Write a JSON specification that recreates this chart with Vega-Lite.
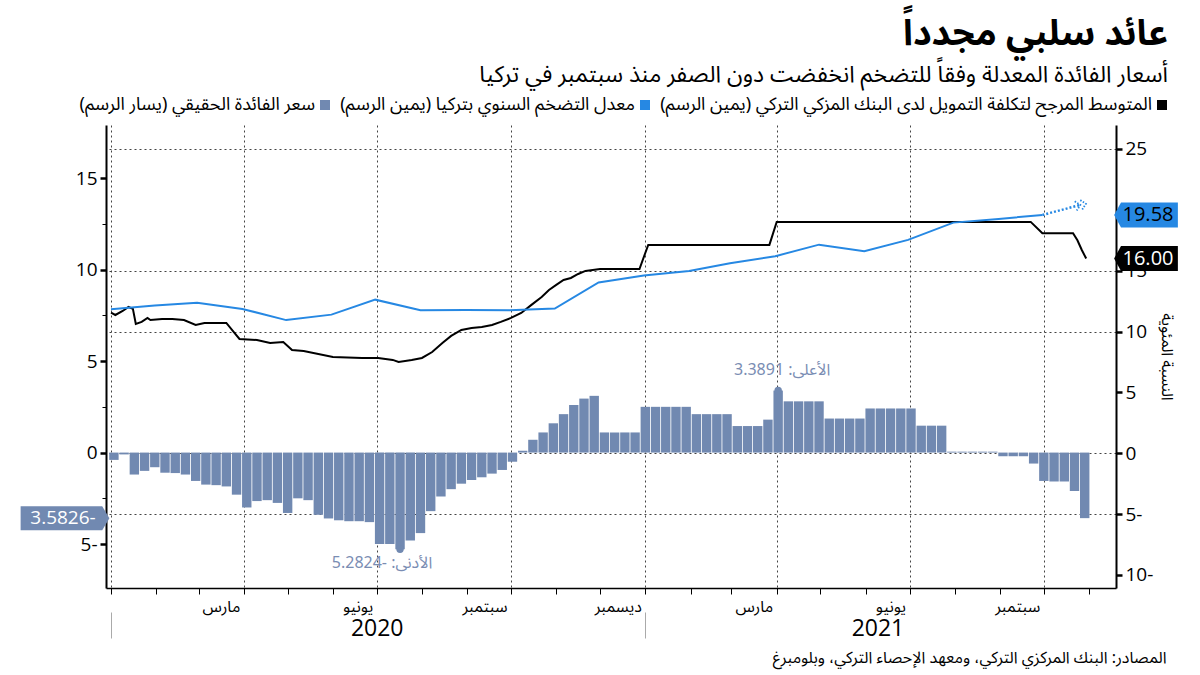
{
  "$schema": "https://vega.github.io/schema/vega-lite/v6.json",
  "width": 1010,
  "height": 463,
  "autosize": {"type": "none"},
  "padding": {"left": 106, "top": 125, "right": 84, "bottom": 87},
  "background": "white",
  "config": {"view": {"stroke": null}},
  "title": {
    "text": "عائد سلبي مجدداً",
    "subtitle": "أسعار الفائدة المعدلة وفقاً للتضخم انخفضت دون الصفر منذ سبتمبر في تركيا",
    "anchor": "end",
    "frame": "group",
    "dx": 52,
    "offset": 8,
    "font": "Noto Sans Arabic, DejaVu Sans, sans-serif",
    "fontSize": 36,
    "fontWeight": "bold",
    "color": "#000000",
    "subtitleFont": "Noto Sans Arabic, DejaVu Sans, sans-serif",
    "subtitleFontSize": 23,
    "subtitleColor": "#000000",
    "subtitlePadding": 11
  },
  "datasets": {
    "bars": [
      {"date": "2020-01-03", "real": -0.4}, {"date": "2020-01-10", "real": -0.1}, {"date": "2020-01-17", "real": -1.2}, {"date": "2020-01-24", "real": -1.0},
      {"date": "2020-01-31", "real": -0.8}, {"date": "2020-02-07", "real": -1.1}, {"date": "2020-02-14", "real": -1.12}, {"date": "2020-02-21", "real": -1.2},
      {"date": "2020-02-28", "real": -1.55}, {"date": "2020-03-06", "real": -1.75}, {"date": "2020-03-13", "real": -1.78}, {"date": "2020-03-20", "real": -1.85},
      {"date": "2020-03-27", "real": -2.3}, {"date": "2020-04-03", "real": -3.0}, {"date": "2020-04-10", "real": -2.65}, {"date": "2020-04-17", "real": -2.6},
      {"date": "2020-04-24", "real": -2.75}, {"date": "2020-05-01", "real": -3.3}, {"date": "2020-05-08", "real": -2.5}, {"date": "2020-05-15", "real": -2.6},
      {"date": "2020-05-22", "real": -3.4}, {"date": "2020-05-29", "real": -3.6}, {"date": "2020-06-05", "real": -3.7}, {"date": "2020-06-12", "real": -3.75},
      {"date": "2020-06-19", "real": -3.75}, {"date": "2020-06-26", "real": -3.8}, {"date": "2020-07-03", "real": -5.0}, {"date": "2020-07-10", "real": -5.0},
      {"date": "2020-07-17", "real": -5.2824}, {"date": "2020-07-24", "real": -4.8}, {"date": "2020-07-31", "real": -4.4}, {"date": "2020-08-07", "real": -3.2},
      {"date": "2020-08-14", "real": -2.4}, {"date": "2020-08-21", "real": -2.0}, {"date": "2020-08-28", "real": -1.7}, {"date": "2020-09-04", "real": -1.5},
      {"date": "2020-09-11", "real": -1.35}, {"date": "2020-09-18", "real": -1.15}, {"date": "2020-09-25", "real": -0.95}, {"date": "2020-10-02", "real": -0.5},
      {"date": "2020-10-09", "real": 0.1}, {"date": "2020-10-16", "real": 0.7}, {"date": "2020-10-23", "real": 1.1}, {"date": "2020-10-30", "real": 1.6},
      {"date": "2020-11-06", "real": 2.1}, {"date": "2020-11-13", "real": 2.6}, {"date": "2020-11-20", "real": 2.95}, {"date": "2020-11-27", "real": 3.1},
      {"date": "2020-12-04", "real": 1.1}, {"date": "2020-12-11", "real": 1.1}, {"date": "2020-12-18", "real": 1.1}, {"date": "2020-12-25", "real": 1.1},
      {"date": "2021-01-01", "real": 2.5}, {"date": "2021-01-08", "real": 2.5}, {"date": "2021-01-15", "real": 2.5}, {"date": "2021-01-22", "real": 2.5},
      {"date": "2021-01-29", "real": 2.5}, {"date": "2021-02-05", "real": 2.1}, {"date": "2021-02-12", "real": 2.1}, {"date": "2021-02-19", "real": 2.1},
      {"date": "2021-02-26", "real": 2.1}, {"date": "2021-03-05", "real": 1.45}, {"date": "2021-03-12", "real": 1.45}, {"date": "2021-03-19", "real": 1.45},
      {"date": "2021-03-26", "real": 1.8}, {"date": "2021-04-02", "real": 3.3891}, {"date": "2021-04-09", "real": 2.8}, {"date": "2021-04-16", "real": 2.8},
      {"date": "2021-04-23", "real": 2.8}, {"date": "2021-04-30", "real": 2.8}, {"date": "2021-05-07", "real": 1.86}, {"date": "2021-05-14", "real": 1.86},
      {"date": "2021-05-21", "real": 1.86}, {"date": "2021-05-28", "real": 1.86}, {"date": "2021-06-04", "real": 2.41}, {"date": "2021-06-11", "real": 2.41},
      {"date": "2021-06-18", "real": 2.41}, {"date": "2021-06-25", "real": 2.41}, {"date": "2021-07-02", "real": 2.41}, {"date": "2021-07-09", "real": 1.47},
      {"date": "2021-07-16", "real": 1.47}, {"date": "2021-07-23", "real": 1.47}, {"date": "2021-07-30", "real": 0.05}, {"date": "2021-08-06", "real": 0.05},
      {"date": "2021-08-13", "real": 0.05}, {"date": "2021-08-20", "real": 0.05}, {"date": "2021-08-27", "real": 0.05}, {"date": "2021-09-03", "real": -0.2},
      {"date": "2021-09-10", "real": -0.2}, {"date": "2021-09-17", "real": -0.2}, {"date": "2021-09-24", "real": -0.6}, {"date": "2021-10-01", "real": -1.55},
      {"date": "2021-10-08", "real": -1.58}, {"date": "2021-10-15", "real": -1.58}, {"date": "2021-10-22", "real": -2.1}, {"date": "2021-10-29", "real": -3.5826}
    ],
    "funding": [
      {"date": "2020-01-01", "rate": 11.55}, {"date": "2020-01-04", "rate": 11.36}, {"date": "2020-01-09", "rate": 11.69}, {"date": "2020-01-13", "rate": 12.02},
      {"date": "2020-01-16", "rate": 11.86}, {"date": "2020-01-18", "rate": 10.63}, {"date": "2020-01-22", "rate": 10.79}, {"date": "2020-01-26", "rate": 11.12},
      {"date": "2020-01-28", "rate": 10.95}, {"date": "2020-02-05", "rate": 11.04}, {"date": "2020-02-12", "rate": 11.04}, {"date": "2020-02-20", "rate": 10.95},
      {"date": "2020-02-28", "rate": 10.54}, {"date": "2020-03-05", "rate": 10.71}, {"date": "2020-03-20", "rate": 10.71}, {"date": "2020-03-25", "rate": 9.97},
      {"date": "2020-03-29", "rate": 9.39}, {"date": "2020-04-10", "rate": 9.31}, {"date": "2020-04-19", "rate": 9.06}, {"date": "2020-04-28", "rate": 9.14},
      {"date": "2020-05-04", "rate": 8.49}, {"date": "2020-05-12", "rate": 8.41}, {"date": "2020-06-01", "rate": 7.91}, {"date": "2020-06-21", "rate": 7.83},
      {"date": "2020-07-02", "rate": 7.83}, {"date": "2020-07-12", "rate": 7.67}, {"date": "2020-07-16", "rate": 7.5}, {"date": "2020-07-25", "rate": 7.67},
      {"date": "2020-08-01", "rate": 7.83}, {"date": "2020-08-08", "rate": 8.32}, {"date": "2020-08-15", "rate": 9.06}, {"date": "2020-08-21", "rate": 9.64},
      {"date": "2020-08-28", "rate": 10.13}, {"date": "2020-09-04", "rate": 10.3}, {"date": "2020-09-11", "rate": 10.38}, {"date": "2020-09-18", "rate": 10.54},
      {"date": "2020-09-24", "rate": 10.79}, {"date": "2020-10-01", "rate": 11.12}, {"date": "2020-10-08", "rate": 11.53}, {"date": "2020-10-15", "rate": 12.19},
      {"date": "2020-10-22", "rate": 12.84}, {"date": "2020-10-27", "rate": 13.42}, {"date": "2020-11-01", "rate": 13.83}, {"date": "2020-11-06", "rate": 14.24},
      {"date": "2020-11-11", "rate": 14.4}, {"date": "2020-11-16", "rate": 14.73}, {"date": "2020-11-21", "rate": 14.98}, {"date": "2020-12-01", "rate": 15.14},
      {"date": "2020-12-28", "rate": 15.14}, {"date": "2021-01-03", "rate": 17.12}, {"date": "2021-03-27", "rate": 17.12}, {"date": "2021-04-01", "rate": 19.01},
      {"date": "2021-09-22", "rate": 19.01}, {"date": "2021-09-30", "rate": 18.07}, {"date": "2021-10-21", "rate": 18.07}, {"date": "2021-10-24", "rate": 17.5},
      {"date": "2021-10-27", "rate": 16.7}, {"date": "2021-10-30", "rate": 16.0}
    ],
    "inflation": [
      {"date": "2020-01-01", "rate": 11.84}, {"date": "2020-01-31", "rate": 12.15}, {"date": "2020-02-29", "rate": 12.37}, {"date": "2020-03-31", "rate": 11.86},
      {"date": "2020-04-30", "rate": 10.94}, {"date": "2020-05-31", "rate": 11.39}, {"date": "2020-06-30", "rate": 12.62}, {"date": "2020-07-31", "rate": 11.76},
      {"date": "2020-08-31", "rate": 11.77}, {"date": "2020-09-30", "rate": 11.75}, {"date": "2020-10-31", "rate": 11.89}, {"date": "2020-11-30", "rate": 14.03},
      {"date": "2020-12-31", "rate": 14.6}, {"date": "2021-01-31", "rate": 14.97}, {"date": "2021-02-28", "rate": 15.61}, {"date": "2021-03-31", "rate": 16.19},
      {"date": "2021-04-30", "rate": 17.14}, {"date": "2021-05-31", "rate": 16.59}, {"date": "2021-06-30", "rate": 17.53}, {"date": "2021-07-31", "rate": 18.95},
      {"date": "2021-08-31", "rate": 19.25}, {"date": "2021-09-30", "rate": 19.58}
    ],
    "projection": [
      {"date": "2021-09-30", "rate": 19.58}, {"date": "2021-10-26", "rate": 20.4}
    ],
    "arrow": [{"date": "2021-10-26", "rate": 20.4}],
    "notes": [
      {"date": "2021-04-02", "real": 3.3891, "kind": "max", "label": "الأعلى: 3.3891"},
      {"date": "2020-07-17", "real": -5.2824, "kind": "min", "label": "الأدنى: -5.2824"}
    ],
    "tagL": [{"real": -3.5826, "label": "3.5826-"}],
    "tagsR": [
      {"rate": 19.58, "label": "19.58", "series": "inf"},
      {"rate": 16.0, "label": "16.00", "series": "fund"}
    ],
    "years": [
      {"year": "2020", "start": "2020-01-01", "mid": "2020-07-01"},
      {"year": "2021", "start": "2021-01-01", "mid": "2021-06-09"}
    ]
  },
  "resolve": {"scale": {"y": "independent"}, "axis": {"x": "independent"}},
  "layer": [
    {
      "layer": [
        {
          "data": {"name": "bars"},
          "mark": {"type": "bar", "width": 9.4},
          "encoding": {
            "x": {
              "field": "date", "type": "temporal",
              "scale": {"type": "utc", "domain": [{"year": 2020, "month": 1, "date": 1, "utc": true}, {"year": 2021, "month": 11, "date": 16, "utc": true}]},
              "axis": {
                "orient": "bottom",
                "values": [
                  {"year": 2020, "month": 1, "date": 1, "utc": true}, {"year": 2020, "month": 2, "date": 1, "utc": true}, {"year": 2020, "month": 3, "date": 1, "utc": true},
                  {"year": 2020, "month": 4, "date": 1, "utc": true}, {"year": 2020, "month": 5, "date": 1, "utc": true}, {"year": 2020, "month": 6, "date": 1, "utc": true},
                  {"year": 2020, "month": 7, "date": 1, "utc": true}, {"year": 2020, "month": 8, "date": 1, "utc": true}, {"year": 2020, "month": 9, "date": 1, "utc": true},
                  {"year": 2020, "month": 10, "date": 1, "utc": true}, {"year": 2020, "month": 11, "date": 1, "utc": true}, {"year": 2020, "month": 12, "date": 1, "utc": true},
                  {"year": 2021, "month": 1, "date": 1, "utc": true}, {"year": 2021, "month": 2, "date": 1, "utc": true}, {"year": 2021, "month": 3, "date": 1, "utc": true},
                  {"year": 2021, "month": 4, "date": 1, "utc": true}, {"year": 2021, "month": 5, "date": 1, "utc": true}, {"year": 2021, "month": 6, "date": 1, "utc": true},
                  {"year": 2021, "month": 7, "date": 1, "utc": true}, {"year": 2021, "month": 8, "date": 1, "utc": true}, {"year": 2021, "month": 9, "date": 1, "utc": true},
                  {"year": 2021, "month": 10, "date": 1, "utc": true}, {"year": 2021, "month": 11, "date": 1, "utc": true}
                ],
                "labelExpr": "utcmonth(datum.value)==3 ? 'مارس' : utcmonth(datum.value)==6 ? 'يونيو' : utcmonth(datum.value)==9 ? 'سبتمبر' : (utcmonth(datum.value)==0 && utcyear(datum.value)==2021) ? 'ديسمبر' : ''",
                "labelAlign": "right",
                "labelOffset": -4,
                "labelFont": "Noto Sans Arabic, DejaVu Sans, sans-serif",
                "labelFontSize": 16,
                "labelColor": "#000000",
                "labelPadding": 4,
                "labelOverlap": false,
                "labelFlush": false,
                "tickSize": 6,
                "tickColor": "#000000",
                "tickWidth": 1,
                "domainColor": "#000000",
                "domainWidth": 1.5,
                "grid": true,
                "gridColor": "#444444",
                "gridDash": [2, 3],
                "gridWidth": 1,
                "gridOpacity": {"condition": {"test": "utcmonth(datum.value) % 3 == 0", "value": 1}, "value": 0},
                "title": null
              }
            },
            "y": {
              "field": "real", "type": "quantitative",
              "scale": {"domain": [-7.4, 17.9], "nice": false, "zero": false},
              "axis": {
                "orient": "left",
                "values": [-5, -2.5, 0, 2.5, 5, 7.5, 10, 12.5, 15],
                "labelExpr": "datum.value % 5 != 0 ? '' : datum.value < 0 ? (-datum.value) + '-' : '' + datum.value",
                "labelFont": "Open Sans, sans-serif",
                "labelFontSize": 19,
                "labelColor": "#000000",
                "labelPadding": 3,
                "tickColor": "#000000",
                "tickSize": {"condition": {"test": "datum.value % 5 == 0", "value": 6}, "value": 4},
                "tickWidth": {"condition": {"test": "datum.value % 5 == 0", "value": 2.5}, "value": 1},
                "domainColor": "#000000",
                "domainWidth": 2,
                "grid": false,
                "title": null
              }
            },
            "color": {
              "datum": "سعر الفائدة الحقيقي (يسار الرسم)\u200f",
              "type": "nominal",
              "scale": {
                "domain": ["سعر الفائدة الحقيقي (يسار الرسم)\u200f", "معدل التضخم السنوي بتركيا (يمين الرسم)\u200f", "المتوسط المرجح لتكلفة التمويل لدى البنك المزكي التركي (يمين الرسم)\u200f"],
                "range": ["#7189b1", "#2688e3", "#000000"]
              },
              "legend": {
                "orient": "none",
                "legendX": 210,
                "legendY": -29,
                "direction": "horizontal",
                "title": null,
                "symbolType": "square",
                "symbolSize": 100,
                "symbolStrokeWidth": 0,
                "labelFont": "Noto Sans Arabic, DejaVu Sans, sans-serif",
                "labelFontSize": 18,
                "labelColor": "#000000",
                "labelAlign": "right",
                "labelOffset": -19,
                "labelLimit": 900,
                "columnPadding": 10
              }
            }
          }
        },
        {
          "data": {"name": "notes"},
          "mark": {"type": "point", "filled": true, "size": 55, "color": "#7189b1", "opacity": 1},
          "encoding": {
            "x": {"field": "date", "type": "temporal"},
            "y": {"field": "real", "type": "quantitative"}
          }
        },
        {
          "data": {"name": "notes"},
          "transform": [{"filter": "datum.kind == 'max'"}],
          "mark": {"type": "text", "dx": 4, "dy": -21, "fontSize": 16, "font": "Noto Sans Arabic, DejaVu Sans, sans-serif", "color": "#7a8db3"},
          "encoding": {
            "x": {"field": "date", "type": "temporal"},
            "y": {"field": "real", "type": "quantitative"},
            "text": {"field": "label"}
          }
        },
        {
          "data": {"name": "notes"},
          "transform": [{"filter": "datum.kind == 'min'"}],
          "mark": {"type": "text", "dx": -18, "dy": 14, "fontSize": 16, "font": "Noto Sans Arabic, DejaVu Sans, sans-serif", "color": "#7a8db3"},
          "encoding": {
            "x": {"field": "date", "type": "temporal"},
            "y": {"field": "real", "type": "quantitative"},
            "text": {"field": "label"}
          }
        },
        {
          "data": {"name": "tagL"},
          "mark": {"type": "point", "shape": "M -3.7 -1 L 3.1 -1 L 3.7 0 L 3.1 1 L -3.7 1 Z", "size": 576, "filled": true, "color": "#7189b1", "opacity": 1, "xOffset": -46},
          "encoding": {
            "x": {"datum": {"year": 2020, "month": 1, "date": 1, "utc": true}, "type": "temporal"},
            "y": {"field": "real", "type": "quantitative"}
          }
        },
        {
          "data": {"name": "tagL"},
          "mark": {"type": "text", "color": "#ffffff", "fontSize": 19, "font": "Open Sans, sans-serif", "xOffset": -48},
          "encoding": {
            "x": {"datum": {"year": 2020, "month": 1, "date": 1, "utc": true}, "type": "temporal"},
            "y": {"field": "real", "type": "quantitative"},
            "text": {"field": "label"}
          }
        }
      ]
    },
    {
      "layer": [
        {
          "data": {"name": "funding"},
          "mark": {"type": "line", "color": "#000000", "strokeWidth": 2},
          "encoding": {
            "x": {"field": "date", "type": "temporal", "axis": null},
            "y": {
              "field": "rate", "type": "quantitative",
              "scale": {"domain": [-11.07, 26.97], "nice": false, "zero": false},
              "axis": {
                "orient": "right",
                "values": [-10, -7.5, -5, -2.5, 0, 2.5, 5, 7.5, 10, 12.5, 15, 17.5, 20, 22.5, 25],
                "labelExpr": "datum.value % 5 != 0 ? '' : datum.value < 0 ? (-datum.value) + '-' : '' + datum.value",
                "labelFont": "Open Sans, sans-serif",
                "labelFontSize": 19,
                "labelColor": "#000000",
                "labelPadding": 3,
                "tickColor": "#000000",
                "tickSize": {"condition": {"test": "datum.value % 5 == 0", "value": 6}, "value": 4},
                "tickWidth": {"condition": {"test": "datum.value % 5 == 0", "value": 2.5}, "value": 1},
                "domainColor": "#000000",
                "domainWidth": 2,
                "grid": true,
                "gridColor": "#444444",
                "gridDash": [2, 3],
                "gridWidth": 1,
                "gridOpacity": {"condition": {"test": "indexof([25, 15, 10, 0, -5], datum.value) >= 0", "value": 1}, "value": 0},
                "title": "النسبة المئوية",
                "titleFont": "Noto Sans Arabic, DejaVu Sans, sans-serif",
                "titleFontSize": 16,
                "titleFontWeight": "normal",
                "titleColor": "#000000",
                "titlePadding": 6
              }
            }
          }
        },
        {
          "data": {"name": "inflation"},
          "mark": {"type": "line", "color": "#2688e3", "strokeWidth": 2},
          "encoding": {
            "x": {"field": "date", "type": "temporal", "axis": null},
            "y": {"field": "rate", "type": "quantitative"}
          }
        },
        {
          "data": {"name": "projection"},
          "mark": {"type": "line", "color": "#2688e3", "strokeWidth": 2.5, "strokeDash": [2, 2]},
          "encoding": {
            "x": {"field": "date", "type": "temporal", "axis": null},
            "y": {"field": "rate", "type": "quantitative"}
          }
        },
        {
          "data": {"name": "arrow"},
          "mark": {"type": "point", "shape": "M -1 -1 L 0 0 L -1 1 M 0.2 -1 L 1.2 0 L 0.2 1", "size": 90, "filled": false, "color": "#2688e3", "strokeWidth": 1.8, "strokeDash": [1.5, 1.5], "opacity": 1, "angle": -12},
          "encoding": {
            "x": {"field": "date", "type": "temporal", "axis": null},
            "y": {"field": "rate", "type": "quantitative"}
          }
        },
        {
          "data": {"name": "tagsR"},
          "mark": {"type": "point", "shape": "M -2.55 0 L -2.0 -1 L 2.55 -1 L 2.55 1 L -2.0 1 Z", "size": 625, "filled": true, "opacity": 1, "strokeWidth": 0, "xOffset": 35},
          "encoding": {
            "x": {"datum": {"year": 2021, "month": 11, "date": 16, "utc": true}, "type": "temporal", "axis": null},
            "y": {"field": "rate", "type": "quantitative"},
            "fill": {"condition": {"test": "datum.series == 'inf'", "value": "#2688e3"}, "value": "#000000"}
          }
        },
        {
          "data": {"name": "tagsR"},
          "mark": {"type": "text", "fontSize": 20, "font": "Open Sans, sans-serif", "xOffset": 37},
          "encoding": {
            "x": {"datum": {"year": 2021, "month": 11, "date": 16, "utc": true}, "type": "temporal", "axis": null},
            "y": {"field": "rate", "type": "quantitative"},
            "text": {"field": "label"},
            "color": {"condition": {"test": "datum.series == 'inf'", "value": "#000000"}, "value": "#ffffff"}
          }
        }
      ]
    },
    {
      "data": {"name": "years"},
      "mark": {"type": "text", "opacity": 0},
      "encoding": {
        "x": {
          "field": "mid", "type": "temporal",
          "axis": {
            "orient": "bottom",
            "values": [{"year": 2020, "month": 7, "date": 1, "utc": true}, {"year": 2021, "month": 6, "date": 9, "utc": true}],
            "labelExpr": "utcFormat(datum.value, '%Y')",
            "ticks": false,
            "domain": false,
            "grid": false,
            "offset": 29,
            "labelPadding": 0,
            "labelFont": "Open Sans, sans-serif",
            "labelFontSize": 23,
            "labelColor": "#000000",
            "labelAlign": "center",
            "labelOverlap": false,
            "labelFlush": false,
            "title": null
          }
        },
        "text": {"field": "year"}
      }
    },
    {
      "data": {"name": "years"},
      "mark": {"type": "text", "opacity": 0},
      "encoding": {
        "x": {
          "field": "start", "type": "temporal",
          "axis": {
            "orient": "bottom",
            "values": [{"year": 2020, "month": 1, "date": 1, "utc": true}, {"year": 2021, "month": 1, "date": 1, "utc": true}],
            "labels": false,
            "domain": false,
            "grid": false,
            "ticks": true,
            "tickSize": 26,
            "tickColor": "#aaaaaa",
            "tickWidth": 1,
            "offset": 24,
            "title": "المصادر: البنك المركزي التركي، ومعهد الإحصاء التركي، وبلومبرغ",
            "titleFont": "Noto Sans Arabic, DejaVu Sans, sans-serif",
            "titleFontSize": 16,
            "titleFontWeight": "normal",
            "titleColor": "#000000",
            "titleAlign": "right",
            "titleAnchor": "end",
            "titleX": 1060,
            "titleY": 45,
            "titleBaseline": "middle"
          }
        },
        "text": {"field": "year"}
      }
    }
  ]
}
